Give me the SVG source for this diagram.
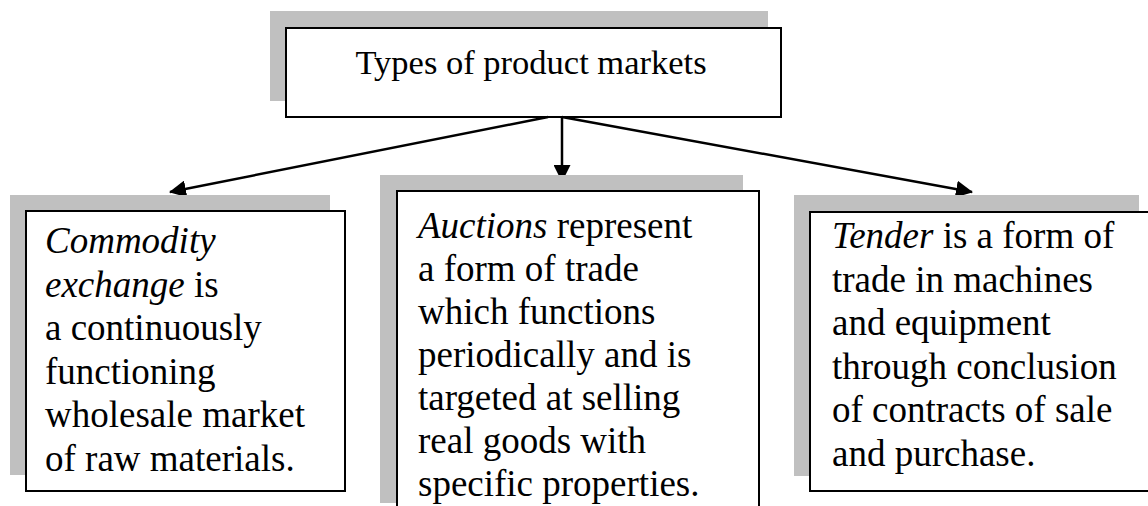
<svg xmlns="http://www.w3.org/2000/svg" width="1148" height="506" viewBox="0 0 1148 506">
  <style>
    .shadow { fill: #c0c0c0; }
    .box { fill: #ffffff; stroke: #000000; stroke-width: 2; }
    .txt { font-family: "Liberation Serif", "Times New Roman", serif; font-size: 37px; fill: #000000; }
    .title { font-family: "Liberation Serif", "Times New Roman", serif; font-size: 34.5px; fill: #000000; text-anchor: middle; }
    .em { font-style: italic; }
    .conn { stroke: #000000; stroke-width: 2.5; fill: none; }
  </style>
  <defs>
    <marker id="arrow" markerUnits="userSpaceOnUse" markerWidth="17" markerHeight="17" refX="16" refY="8.5" orient="auto">
      <path d="M0,0 L17,8.5 L0,17 Z" fill="#000000"/>
    </marker>
  </defs>

  <rect width="1148" height="506" fill="#ffffff"/>

  <!-- root node -->
  <g id="node-types">
    <rect class="shadow" x="270" y="11" width="498" height="90"/>
    <rect class="box" x="286" y="28" width="495" height="89"/>
    <text class="title" x="531" y="74">Types of product markets</text>
  </g>

  <!-- arrows from the root to the three kinds of market -->
  <g id="connectors">
    <line class="conn" x1="548" y1="117" x2="170" y2="192" marker-end="url(#arrow)"/>
    <line class="conn" x1="562" y1="117" x2="562" y2="181" marker-end="url(#arrow)"/>
    <line class="conn" x1="562" y1="117" x2="972" y2="192" marker-end="url(#arrow)"/>
  </g>

  <g id="node-commodity">
    <rect class="shadow" x="10" y="195" width="320" height="280"/>
    <rect class="box" x="26" y="211" width="319" height="280"/>
    <text class="txt">
      <tspan x="45" y="253" class="em">Commodity</tspan>
      <tspan x="45" y="296.5"><tspan class="em">exchange</tspan> is</tspan>
      <tspan x="45" y="340">a continuously</tspan>
      <tspan x="45" y="383.5">functioning</tspan>
      <tspan x="45" y="427">wholesale market</tspan>
      <tspan x="45" y="470.5">of raw materials.</tspan>
    </text>
  </g>

  <g id="node-auctions">
    <rect class="shadow" x="380" y="175" width="363" height="328"/>
    <rect class="box" x="397" y="191" width="362" height="330"/>
    <text class="txt">
      <tspan x="418" y="238"><tspan class="em">Auctions</tspan> represent</tspan>
      <tspan x="418" y="281">a form of trade</tspan>
      <tspan x="418" y="324">which functions</tspan>
      <tspan x="418" y="367">periodically and is</tspan>
      <tspan x="418" y="410">targeted at selling</tspan>
      <tspan x="418" y="453">real goods with</tspan>
      <tspan x="418" y="496">specific properties.</tspan>
    </text>
  </g>

  <g id="node-tender">
    <rect class="shadow" x="794" y="195" width="345" height="281"/>
    <rect class="box" x="810" y="212" width="345" height="279"/>
    <text class="txt">
      <tspan x="832" y="248"><tspan class="em">Tender</tspan> is a form of</tspan>
      <tspan x="832" y="291.5">trade in machines</tspan>
      <tspan x="832" y="335">and equipment</tspan>
      <tspan x="832" y="378.5">through conclusion</tspan>
      <tspan x="832" y="422">of contracts of sale</tspan>
      <tspan x="832" y="465.5">and purchase.</tspan>
    </text>
  </g>
</svg>
